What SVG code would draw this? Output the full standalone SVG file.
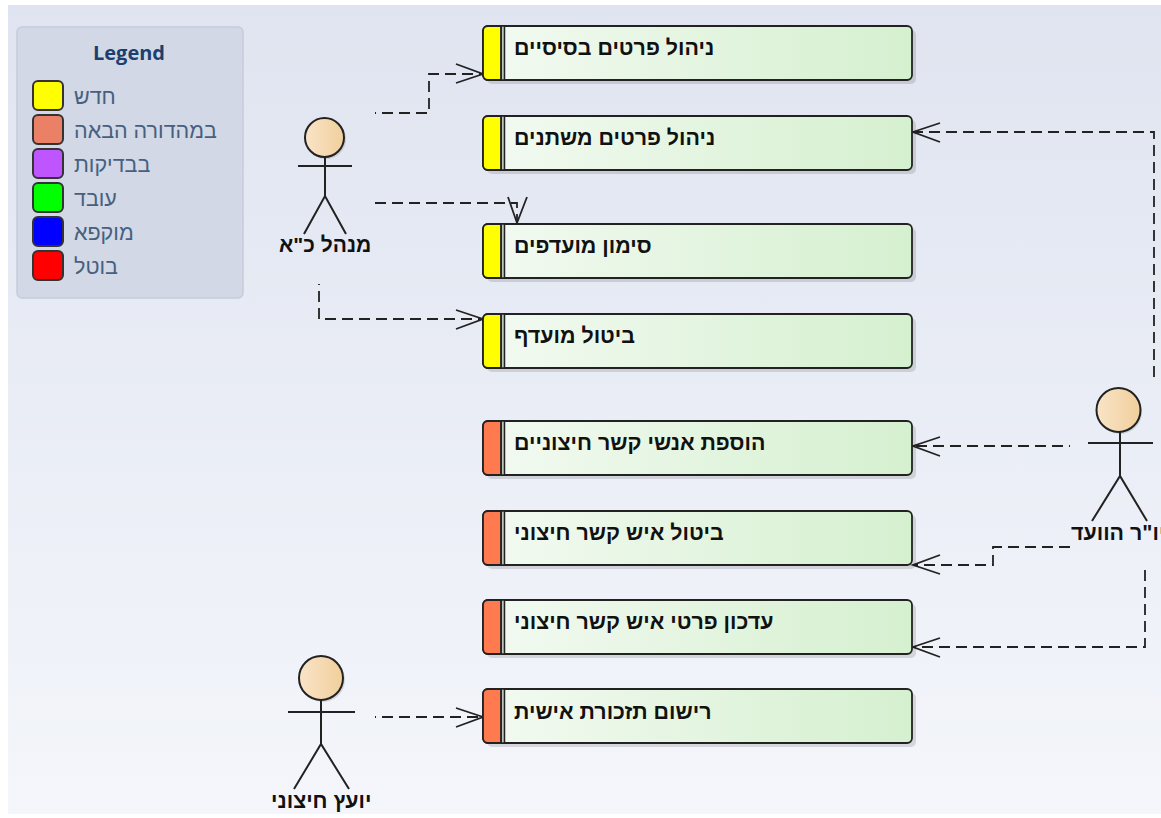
<svg xmlns="http://www.w3.org/2000/svg" width="1161" height="818" viewBox="0 0 1161 818">
<style>
text{font-family:"Liberation Sans","Noto Sans",sans-serif;direction:rtl}
.n{font-size:21.4px;font-weight:700;fill:#111;text-anchor:end}
.l{font-size:21.5px;fill:#46607f;text-anchor:end}
.b{fill:url(#g);stroke:#222;stroke-width:1.8}
.s{fill:#000;opacity:.12}
.st{fill:none;stroke:#222;stroke-width:2}
.sw{stroke:#333;stroke-width:2}
.head{fill:url(#h);stroke:#222;stroke-width:2}
.c{fill:none;stroke:#222;stroke-width:1.8;stroke-dasharray:11 6}
.ah{fill:none;stroke:#222;stroke-width:1.8}
.sep{fill:#b9c6b9;stroke:#222;stroke-width:1.5}
.bar{stroke:#222;stroke-width:1.8}
.new{fill:#ffff00}
.next{fill:#ff7a4f}
</style>
<defs>
<linearGradient id="bg" x1="0" y1="0" x2="0" y2="1"><stop offset="0" stop-color="#dfe4f0"/><stop offset="1" stop-color="#f4f6fb"/></linearGradient>
<linearGradient id="g"><stop offset="0" stop-color="#f3faf2"/><stop offset="1" stop-color="#d5f0cf"/></linearGradient>
<linearGradient id="h"><stop offset="0" stop-color="#f9e4c8"/><stop offset="1" stop-color="#f1cf9b"/></linearGradient>
</defs>
<rect width="1161" height="818" fill="#fff"/>
<rect x="8" y="5" width="1153" height="809" fill="url(#bg)"/>
<g id="legend">
<rect x="17" y="27" width="226" height="271" rx="5" fill="#d2d8e5" stroke="#c6ccdb" stroke-width="1.5"/>
<text x="129" y="60" font-size="20" font-weight="700" fill="#1c3f6e" style="direction:ltr;text-anchor:middle;font-family:'Open Sans','Noto Sans',sans-serif">Legend</text>
<rect class="sw" x="33" y="81" width="30" height="29" rx="5" fill="#ffff00"/><text class="l" x="74" y="104">חדש</text>
<rect class="sw" x="33" y="115" width="30" height="29" rx="5" fill="#ea8065"/><text class="l" x="74" y="138">במהדורה הבאה</text>
<rect class="sw" x="33" y="149" width="30" height="29" rx="5" fill="#bf55ff"/><text class="l" x="74" y="172">בבדיקות</text>
<rect class="sw" x="33" y="183" width="30" height="29" rx="5" fill="#00ff00"/><text class="l" x="74" y="206">עובד</text>
<rect class="sw" x="33" y="217" width="30" height="29" rx="5" fill="#0000ff"/><text class="l" x="74" y="240">מוקפא</text>
<rect class="sw" x="33" y="251" width="30" height="29" rx="5" fill="#ff0000"/><text class="l" x="74" y="274">בוטל</text>
</g>
<g id="connectors">
<path class="c" stroke-dashoffset="10" d="M375 113H429V74H483"/><path class="ah" d="M456 64L483 74L456 83"/>
<path class="c" d="M375 203H517V223"/><path class="ah" d="M508 197L517 223L527 197"/>
<path class="c" stroke-dashoffset="10" d="M319 284V319H483"/><path class="ah" d="M456 310L483 319L456 329"/>
<path class="c" d="M1154 377V132H913"/><path class="ah" d="M940 123L913 132L940 142"/>
<path class="c" stroke-dashoffset="10" d="M1070 446H913"/><path class="ah" d="M940 437L913 446L940 456"/>
<path class="c" d="M1070 547H993V565H913"/><path class="ah" d="M940 555L913 565L940 574"/>
<path class="c" d="M1145 570V647H913"/><path class="ah" d="M940 638L913 647L940 657"/>
<path class="c" stroke-dashoffset="10" d="M375 717H483"/><path class="ah" d="M456 708L483 717L456 727"/>
</g>
<g id="n1"><rect class="s" x="487" y="30" width="429" height="54" rx="5"/><rect class="b" x="483" y="26" width="429" height="54" rx="5"/><path class="sep" d="M501 26H504.500V80H501z"/><path class="bar new" d="M488 26H501V80H488a5 5 0 0 1-5-5V31a5 5 0 0 1 5-5z"/><text class="n" x="514" y="55">ניהול פרטים בסיסיים</text></g>
<g id="n2"><rect class="s" x="487" y="120" width="429" height="54" rx="5"/><rect class="b" x="483" y="116" width="429" height="54" rx="5"/><path class="sep" d="M501 116H504.500V170H501z"/><path class="bar new" d="M488 116H501V170H488a5 5 0 0 1-5-5V121a5 5 0 0 1 5-5z"/><text class="n" x="514" y="145">ניהול פרטים משתנים</text></g>
<g id="n3"><rect class="s" x="487" y="228" width="429" height="54" rx="5"/><rect class="b" x="483" y="224" width="429" height="54" rx="5"/><path class="sep" d="M501 224H504.500V278H501z"/><path class="bar new" d="M488 224H501V278H488a5 5 0 0 1-5-5V229a5 5 0 0 1 5-5z"/><text class="n" x="514" y="253">סימון מועדפים</text></g>
<g id="n4"><rect class="s" x="487" y="318" width="429" height="54" rx="5"/><rect class="b" x="483" y="314" width="429" height="54" rx="5"/><path class="sep" d="M501 314H504.500V368H501z"/><path class="bar new" d="M488 314H501V368H488a5 5 0 0 1-5-5V319a5 5 0 0 1 5-5z"/><text class="n" x="514" y="343">ביטול מועדף</text></g>
<g id="n5"><rect class="s" x="487" y="425" width="429" height="54" rx="5"/><rect class="b" x="483" y="421" width="429" height="54" rx="5"/><path class="sep" d="M501 421H504.500V475H501z"/><path class="bar next" d="M488 421H501V475H488a5 5 0 0 1-5-5V426a5 5 0 0 1 5-5z"/><text class="n" x="514" y="450">הוספת אנשי קשר חיצוניים</text></g>
<g id="n6"><rect class="s" x="487" y="515" width="429" height="54" rx="5"/><rect class="b" x="483" y="511" width="429" height="54" rx="5"/><path class="sep" d="M501 511H504.500V565H501z"/><path class="bar next" d="M488 511H501V565H488a5 5 0 0 1-5-5V516a5 5 0 0 1 5-5z"/><text class="n" x="514" y="540">ביטול איש קשר חיצוני</text></g>
<g id="n7"><rect class="s" x="487" y="604" width="429" height="54" rx="5"/><rect class="b" x="483" y="600" width="429" height="54" rx="5"/><path class="sep" d="M501 600H504.500V654H501z"/><path class="bar next" d="M488 600H501V654H488a5 5 0 0 1-5-5V605a5 5 0 0 1 5-5z"/><text class="n" x="514" y="629">עדכון פרטי איש קשר חיצוני</text></g>
<g id="n8"><rect class="s" x="487" y="693" width="429" height="54" rx="5"/><rect class="b" x="483" y="689" width="429" height="54" rx="5"/><path class="sep" d="M501 689H504.500V743H501z"/><path class="bar next" d="M488 689H501V743H488a5 5 0 0 1-5-5V694a5 5 0 0 1 5-5z"/><text class="n" x="514" y="719">רישום תזכורת אישית</text></g>
<g id="actor1"><circle class="s" cx="326" cy="139" r="20"/><circle class="head" cx="324.500" cy="137.500" r="19.500"/><path class="st" d="M325 157V196M298 166H352M304 234L325 196L346 234"/><text class="n" x="279" y="252" style="font-size:21px">מנהל כ"א</text></g>
<g id="actor2"><circle class="s" cx="1120" cy="412" r="22"/><circle class="head" cx="1118.500" cy="410" r="22"/><path class="st" d="M1120 432V476M1088 443H1153M1092 521L1120 476L1147 521"/><text class="n" x="1071" y="540">יו"ר הוועד</text></g>
<g id="actor3"><circle class="s" cx="323" cy="680" r="22"/><circle class="head" cx="321" cy="678" r="22"/><path class="st" d="M321 700V744M288 712H355M294 789L321 744L349 789"/><text class="n" x="271" y="808">יועץ חיצוני</text></g>
</svg>
